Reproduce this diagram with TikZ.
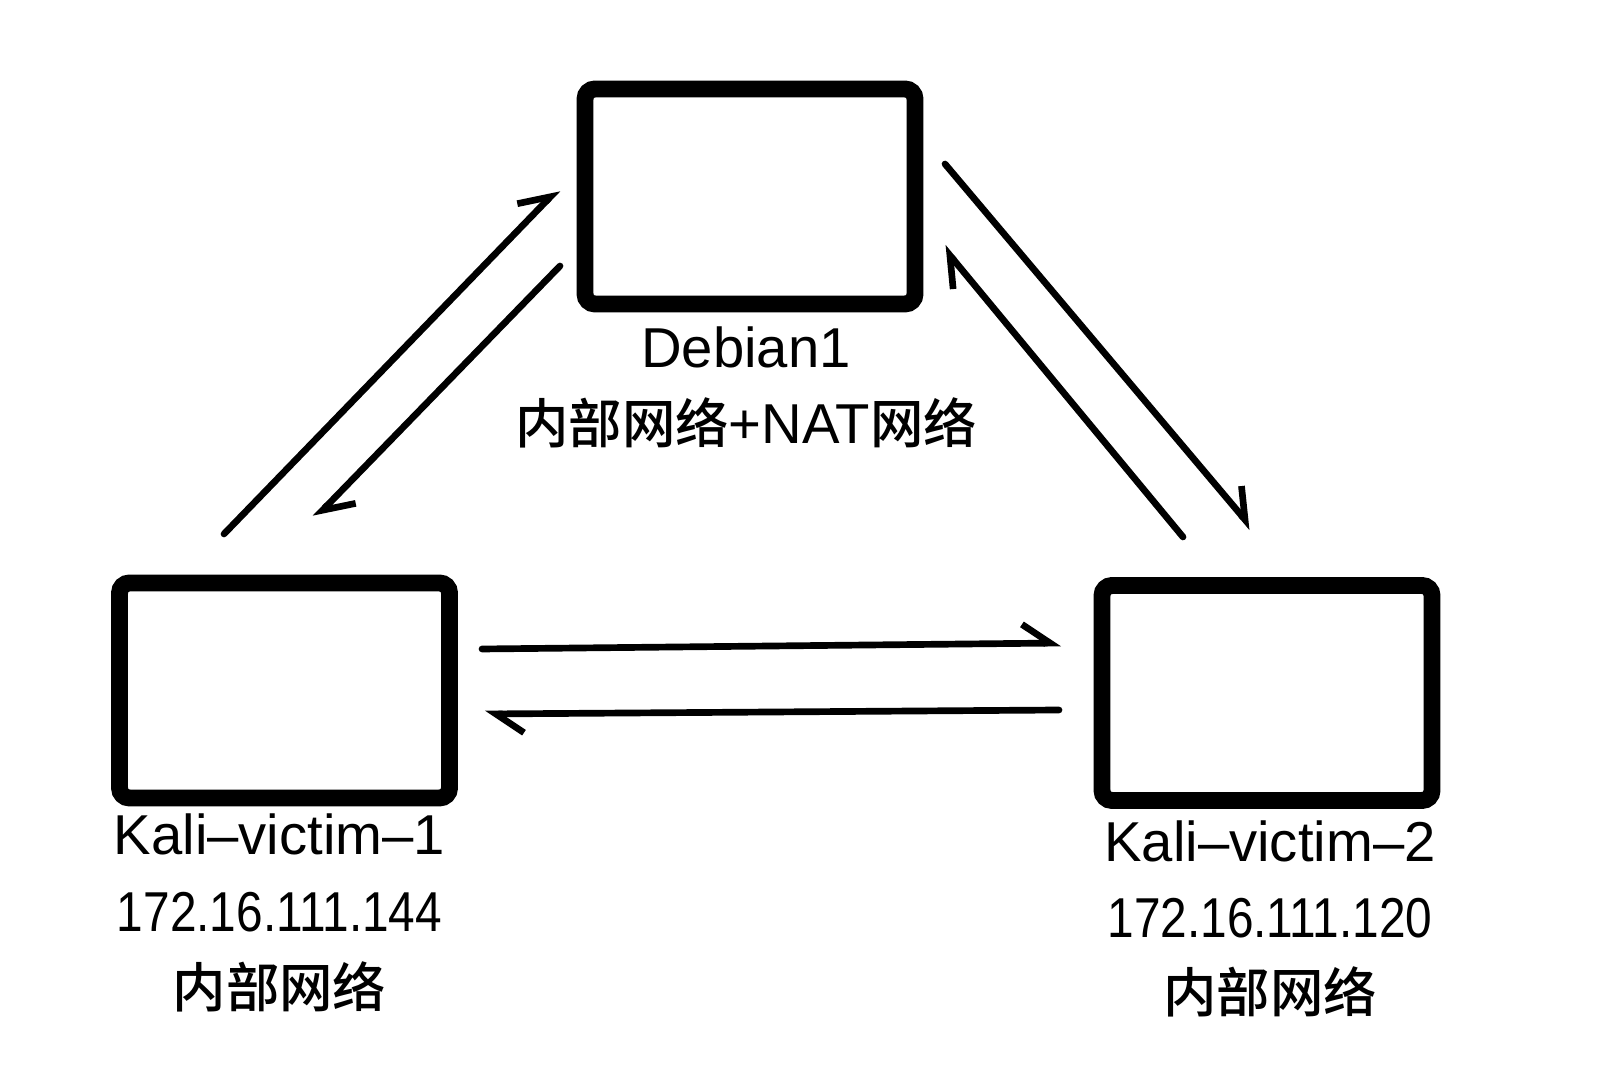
\documentclass[tikz,border=0pt]{standalone}
\usepackage{fontspec}
\setmainfont{Liberation Sans}
\newfontfamily\cjk{Noto Sans CJK SC Medium}[Scale=0.95]
\newfontfamily\ipfont{Liberation Sans}[FakeStretch=0.85]
\usetikzlibrary{arrows.meta}

\begin{document}
\begin{tikzpicture}[
	vm/.style={rectangle, draw, line width=4.8pt, rounded corners=1mm, minimum width=3.3cm, minimum height=2.15cm},
	lbl/.style={anchor=base, inner sep=0pt, font=\fontsize{16}{20}\selectfont},
	link/.style={line width=1.9pt, line cap=round, -{Straight Barb[left, length=2.8mm, width=3.8mm]}},
	]
	\useasboundingbox (0,0) rectangle (16.2,10.8);

	\node [vm] (debian) at (7.50,8.835) {};
	\node [vm] (kali1) at (2.845,3.895) {};
	\node [vm] (kali2) at (12.67,3.87) {};

	\node [lbl] (debname) at ([xshift=-0.04cm,yshift=-0.55cm]debian.south) {Debian1};
	\node [lbl] (debnet) at ([yshift=-0.76cm]debname.base) {{\cjk 内部网络}+NAT{\cjk 网络}};

	\node [lbl] (k1name) at ([xshift=-0.05cm,yshift=-0.48cm]kali1.south) {Kali–victim–1};
	\node [lbl] (k1ip) at ([yshift=-0.77cm]k1name.base) {\ipfont 172.16.111.144};
	\node [lbl] (k1net) at ([yshift=-0.76cm]k1ip.base) {\cjk 内部网络};

	\node [lbl] (k2name) at ([xshift=0.03cm,yshift=-0.53cm]kali2.south) {Kali–victim–2};
	\node [lbl] (k2ip) at ([yshift=-0.76cm]k2name.base) {\ipfont 172.16.111.120};
	\node [lbl] (k2net) at ([yshift=-0.75cm]k2ip.base) {\cjk 内部网络};

	\coordinate (k1up) at (2.24,5.46);
	\coordinate (debin) at (5.58,8.91);
	\coordinate (debout) at (5.60,8.14);
	\coordinate (k1in) at (3.15,5.62);
	\coordinate (debout2) at (9.45,9.16);
	\coordinate (k2in) at (12.52,5.52);
	\coordinate (k2up) at (11.83,5.43);
	\coordinate (debin2) at (9.43,8.33);
	\coordinate (k1out) at (4.82,4.31);
	\coordinate (k2in2) at (10.61,4.37);
	\coordinate (k2out) at (10.59,3.70);
	\coordinate (k1in2) at (4.85,3.66);

	\draw [link] (k1up) -- (debin);
	\draw [link] (debout) -- (k1in);
	\draw [link] (debout2) -- (k2in);
	\draw [link] (k2up) -- (debin2);
	\draw [link] (k1out) -- (k2in2);
	\draw [link] (k2out) -- (k1in2);
\end{tikzpicture}
\end{document}
